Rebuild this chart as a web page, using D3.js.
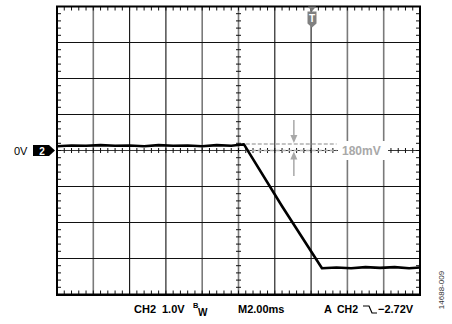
<!DOCTYPE html>
<html><head><meta charset="utf-8">
<script src="https://cdn.jsdelivr.net/npm/d3@7"></script>
<style>
html,body{margin:0;padding:0;background:#fff;}
svg{display:block;}
text{font-family:"Liberation Sans",Arial,sans-serif;}
</style></head>
<body>
<script>
// ---- data ----
const timeMs   = [0, 0.8, 1.6, 2.4, 3.2, 4.0, 4.8, 5.6, 6.4, 7.2, 8.0, 8.8, 9.6, 10.1, 10.3, 12.4, 14.6, 15.4, 16.2, 17.0, 17.8, 18.6, 19.4, 20];
const ch2Volts = [0.12, 0.14, 0.13, 0.15, 0.13, 0.14, 0.12, 0.15, 0.13, 0.14, 0.12, 0.15, 0.13, 0.16, 0.17, -1.55, -3.27, -3.25, -3.27, -3.24, -3.26, -3.24, -3.27, -3.25];
const xDivTimes = [2, 4, 6, 8, 10, 12, 14, 16, 18];
const yDivVolts = [-3, -2, -1, 0, 1, 2, 3];
const cursorVolts = [0, 0.18];
const cursorLabel = "180mV";
const triggerTimeMs = 14.05;
const labels = {ch: "CH2", scale: "1.0V", bwB: "B", bwW: "W", time: "M2.00ms", trigA: "A", trigCh: "CH2", trigLevel: "\u22122.72V", ref: "0V", chNum: "2", figId: "14688-009"};

// ---- layout ----
const W = 452, H = 324;
const L = 57, R = 420, T = 6.5, B = 294.5;
const x = d3.scaleLinear().domain([0, 20]).range([L, R]);
const y = d3.scaleLinear().domain([-4, 4]).range([B, T]);
const grayLines = new Set([2, 8, 10, 16, 18]);

const svg = d3.select("body").append("svg").attr("width", W).attr("height", H);

// grid vertical
svg.append("g").selectAll("line").data(xDivTimes).join("line")
  .attr("x1", d => x(d)).attr("x2", d => x(d)).attr("y1", T).attr("y2", B)
  .attr("stroke", d => grayLines.has(d) ? "#7a7a7a" : "#111")
  .attr("stroke-width", d => grayLines.has(d) ? 1.6 : 1.1);
// grid horizontal
svg.append("g").selectAll("line").data(yDivVolts.filter(v => v !== 0)).join("line")
  .attr("x1", L).attr("x2", R).attr("y1", d => y(d)).attr("y2", d => y(d))
  .attr("stroke", "#111").attr("stroke-width", 1.1);
// center horizontal axis
svg.append("line").attr("x1", L).attr("x2", R).attr("y1", y(0)).attr("y2", y(0))
  .attr("stroke", "#222").attr("stroke-width", 0.9);

// minor ticks
const minorT = d3.range(0, 20.001, 0.4);
const minorV = d3.range(-4, 4.001, 0.2);
const tg = svg.append("g").attr("stroke", "#111").attr("stroke-width", 1);
tg.selectAll(".tt").data(minorT).join("line").attr("x1", d => x(d)).attr("x2", d => x(d)).attr("y1", T).attr("y2", T + 4);
tg.selectAll(".tb").data(minorT).join("line").attr("x1", d => x(d)).attr("x2", d => x(d)).attr("y1", B - 4).attr("y2", B);
tg.selectAll(".tc").data(minorT).join("line").attr("x1", d => x(d)).attr("x2", d => x(d)).attr("y1", y(0) - 2.5).attr("y2", y(0) + 2.5);
tg.selectAll(".tl").data(minorV).join("line").attr("y1", d => y(d)).attr("y2", d => y(d)).attr("x1", L).attr("x2", L + 4);
tg.selectAll(".tr").data(minorV).join("line").attr("y1", d => y(d)).attr("y2", d => y(d)).attr("x1", R - 4).attr("x2", R);
tg.selectAll(".tm").data(minorV).join("line").attr("y1", d => y(d)).attr("y2", d => y(d)).attr("x1", x(10) - 2.5).attr("x2", x(10) + 2.5);

// label box for cursor readout (white background)
svg.append("rect").attr("x", 338).attr("y", 141).attr("width", 50).attr("height", 19).attr("fill", "#fff");

// border
svg.append("rect").attr("x", L).attr("y", T).attr("width", R - L).attr("height", B - T)
  .attr("fill", "none").attr("stroke", "#000").attr("stroke-width", 2);
svg.append("line").attr("x1", L - 1).attr("x2", R + 1).attr("y1", B + 0.5).attr("y2", B + 0.5).attr("stroke", "#000").attr("stroke-width", 2);

// cursors
const cg = svg.append("g").attr("stroke", "#b0b0b0").attr("stroke-width", 1.3).attr("stroke-dasharray", "4,2");
cg.selectAll("line").data(cursorVolts).join("line")
  .attr("x1", x(10.4)).attr("x2", x(15.4)).attr("y1", d => y(d)).attr("y2", d => y(d));
svg.append("text").attr("x", 342).attr("y", 155).attr("fill", "#a8a8a8")
  .attr("font-size", 12).attr("font-weight", "bold").text(cursorLabel);

// cursor arrows
const ax = x(13.05);
const ag = svg.append("g").attr("fill", "#a8a8a8").attr("stroke", "#a8a8a8");
ag.append("line").attr("x1", ax).attr("x2", ax).attr("y1", 120).attr("y2", y(0.18) - 6).attr("stroke-width", 1.5);
ag.append("path").attr("d", `M${ax - 3.5},${y(0.18) - 9}L${ax + 3.5},${y(0.18) - 9}L${ax},${y(0.18) - 1}Z`).attr("stroke", "none");
ag.append("line").attr("x1", ax).attr("x2", ax).attr("y1", 176).attr("y2", y(0) + 6).attr("stroke-width", 1.5);
ag.append("path").attr("d", `M${ax - 3.5},${y(0) + 9}L${ax + 3.5},${y(0) + 9}L${ax},${y(0) + 1}Z`).attr("stroke", "none");

// waveform
svg.append("path").datum(timeMs.map((t, i) => [t, ch2Volts[i]]))
  .attr("d", d3.line().x(d => x(d[0])).y(d => y(d[1])))
  .attr("fill", "none").attr("stroke", "#000").attr("stroke-width", 2.6).attr("stroke-linejoin", "round");

// trigger marker
const tx = x(triggerTimeMs);
svg.append("path").attr("d", `M${tx - 4},${T}L${tx + 4},${T}L${tx},${T + 5}Z`).attr("fill", "#7a7a7a");
svg.append("path").attr("d", `M${tx - 4.5},${T + 5}L${tx + 4.5},${T + 5}L${tx + 4.5},${T + 17}L${tx},${T + 21}L${tx - 4.5},${T + 17}Z`).attr("fill", "#808080");
svg.append("text").attr("x", tx).attr("y", T + 15.5).attr("text-anchor", "middle").attr("fill", "#fff")
  .attr("font-size", 10).attr("font-weight", "bold").text("T");

// reference marker
const y0 = y(0);
svg.append("text").attr("x", 14).attr("y", y0 + 4.5).attr("font-size", 11).attr("fill", "#000").text(labels.ref);
svg.append("path").attr("d", `M33,${y0 - 5.5}L49,${y0 - 5.5}L55,${y0}L49,${y0 + 5.5}L33,${y0 + 5.5}Z`).attr("fill", "#000");
svg.append("text").attr("x", 42).attr("y", y0 + 4).attr("text-anchor", "middle").attr("font-size", 10).attr("font-weight", "bold").attr("fill", "#fff").text(labels.chNum);

// bottom readout
const by = 313;
const bt = (tx_, s, sz, extra) => svg.append("text").attr("x", tx_).attr("y", extra || by).attr("font-size", sz || 11).attr("font-weight", "bold").attr("fill", "#000").text(s);
bt(134, labels.ch);
bt(162, labels.scale);
bt(193, labels.bwB, 7.5, 308);
bt(198, labels.bwW, 10, 316);
bt(238, labels.time);
bt(324, labels.trigA);
bt(337, labels.trigCh, 10.5);
svg.append("path").attr("d", `M363,${by - 7}L369,${by - 7}L372,${by}L377,${by}`).attr("fill", "none").attr("stroke", "#000").attr("stroke-width", 1.2);
bt(378, labels.trigLevel);

// figure id
svg.append("text").attr("transform", "translate(444,290) rotate(-90)").attr("text-anchor", "middle")
  .attr("font-size", 8).attr("fill", "#333").text(labels.figId);
</script>
</body></html>
